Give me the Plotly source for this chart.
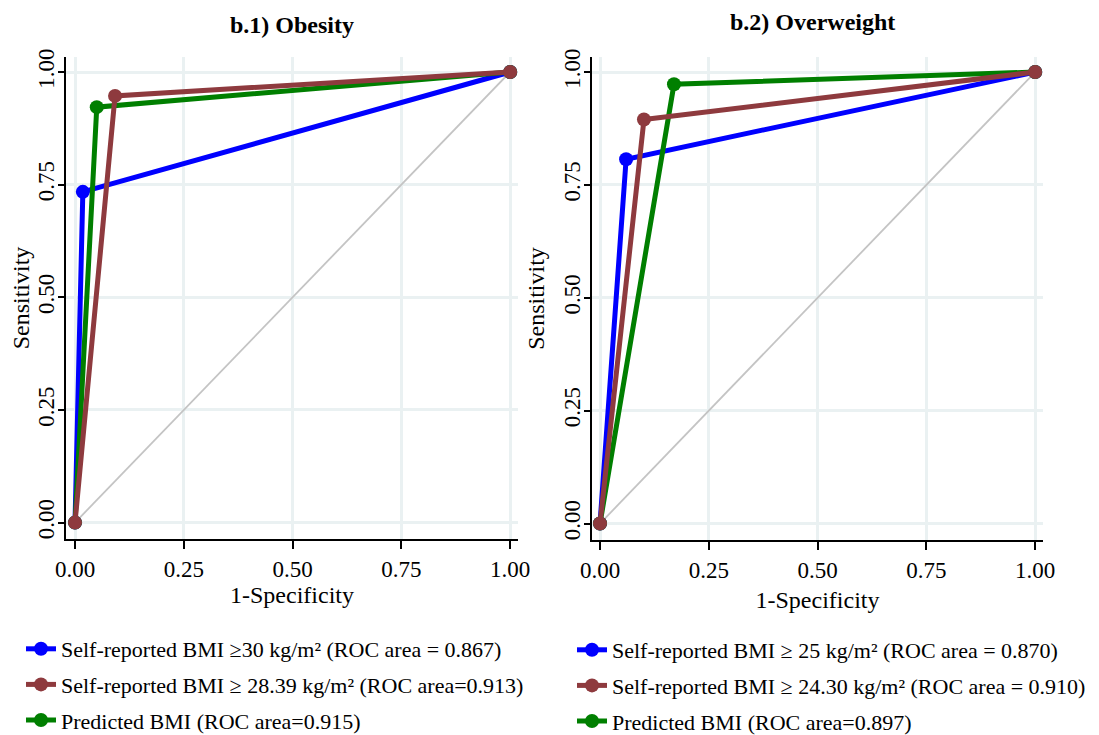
import plotly.graph_objects as go

# ---- data ----
ticks = [0, 0.25, 0.5, 0.75, 1.0]
tick_text = ["0.00", "0.25", "0.50", "0.75", "1.00"]

ob_names = ["Self-reported BMI ≥30 kg/m² (ROC area = 0.867)",
            "Self-reported BMI ≥ 28.39 kg/m² (ROC area=0.913)",
            "Predicted BMI (ROC area=0.915)"]
ob_fpr = [[0, 0.018, 1], [0, 0.092, 1], [0, 0.050, 1]]
ob_sens = [[0, 0.734, 1], [0, 0.947, 1], [0, 0.922, 1]]

ow_names = ["Self-reported BMI ≥ 25 kg/m² (ROC area = 0.870)",
            "Self-reported BMI ≥ 24.30 kg/m² (ROC area = 0.910)",
            "Predicted BMI (ROC area=0.897)"]
ow_fpr = [[0, 0.060, 1], [0, 0.101, 1], [0, 0.170, 1]]
ow_sens = [[0, 0.807, 1], [0, 0.895, 1], [0, 0.973, 1]]

ref_x = [0, 1]
ref_y = [0, 1]

colors = ["#0000FF", "#8E3A3E", "#007F00"]
draw_order = [0, 2, 1]

FONT = "Liberation Serif"
# page has an 8px body margin; figure sized to fill the rest of the window
W, H = 1091, 727

fig = go.Figure()

panels = [
    dict(names=ob_names, fpr=ob_fpr, sens=ob_sens, xa="x", ya="y", legend="legend"),
    dict(names=ow_names, fpr=ow_fpr, sens=ow_sens, xa="x2", ya="y2", legend="legend2"),
]

for p in panels:
    fig.add_trace(go.Scatter(x=ref_x, y=ref_y, mode="lines",
                             line=dict(color="#C4C4C4", width=1.8),
                             showlegend=False, hoverinfo="skip",
                             xaxis=p["xa"], yaxis=p["ya"]))
    for i in draw_order:
        fig.add_trace(go.Scatter(
            x=p["fpr"][i], y=p["sens"][i], mode="lines+markers",
            name=p["names"][i], legendrank=i + 1, legendgroup=f"{p['legend']}_{i}",
            line=dict(color=colors[i], width=5),
            marker=dict(color=colors[i], size=14),
            xaxis=p["xa"], yaxis=p["ya"], legend=p["legend"]))

def xax(domain, rng, anchor, standoff):
    return dict(domain=domain, range=rng, tickvals=ticks, ticktext=tick_text, anchor=anchor,
                automargin=False,
                showline=True, linecolor="black", linewidth=2,
                ticks="outside", ticklen=8, tickwidth=2, tickcolor="black",
                showgrid=True, gridcolor="#EAF1F2", gridwidth=2.5, zeroline=False,
                tickfont=dict(family=FONT, size=23, color="black"),
                title=dict(text="1-Specificity", font=dict(family=FONT, size=24, color="black"),
                           standoff=standoff))

def yax(domain, rng, anchor):
    return dict(domain=domain, range=rng, tickvals=ticks, ticktext=tick_text, anchor=anchor,
                automargin=False,
                showline=True, linecolor="black", linewidth=2,
                ticks="outside", ticklen=6, tickwidth=2, tickcolor="black",
                ticklabelstandoff=-5,
                showgrid=True, gridcolor="#EAF1F2", gridwidth=2.5, zeroline=False,
                tickangle=-90,
                tickfont=dict(family=FONT, size=23, color="black"),
                title=dict(text="Sensitivity", font=dict(family=FONT, size=24, color="black"),
                           standoff=8))

fig.update_layout(
    width=W, height=H,
    margin=dict(l=0, r=0, t=0, b=0, autoexpand=False),
    paper_bgcolor="white", plot_bgcolor="white",
    font=dict(family=FONT, color="black"),
    xaxis=xax([58 / W, 510 / W], [-0.0207, 1.018], "y", 0),
    yaxis=yax([(H - 531) / H, (H - 49) / H], [-0.0364, 1.0333], "x"),
    xaxis2=xax([584 / W, 1035 / W], [-0.0184, 1.018], "y2", 10),
    yaxis2=yax([(H - 532) / H, (H - 49) / H], [-0.0364, 1.0333], "x2"),
    legend=dict(x=13 / W, y=(H - 620) / H, xanchor="left", yanchor="top",
                font=dict(family=FONT, size=22, color="black"),
                tracegroupgap=4, itemwidth=30, bgcolor="rgba(0,0,0,0)"),
    legend2=dict(x=564 / W, y=(H - 621) / H, xanchor="left", yanchor="top",
                 font=dict(family=FONT, size=22, color="black"),
                 tracegroupgap=4, itemwidth=30, bgcolor="rgba(0,0,0,0)"),
    annotations=[
        dict(text="<b>b.1) Obesity</b>", x=284 / W, y=(H - 17) / H, xref="paper", yref="paper",
             showarrow=False, xanchor="center", yanchor="middle",
             font=dict(family=FONT, size=24, color="black")),
        dict(text="<b>b.2) Overweight</b>", x=804 / W, y=1.0, xref="paper", yref="paper",
             showarrow=False, xanchor="center", yanchor="top", borderpad=0,
             font=dict(family=FONT, size=24, color="black")),
    ],
)

fig.write_html("out.html")
